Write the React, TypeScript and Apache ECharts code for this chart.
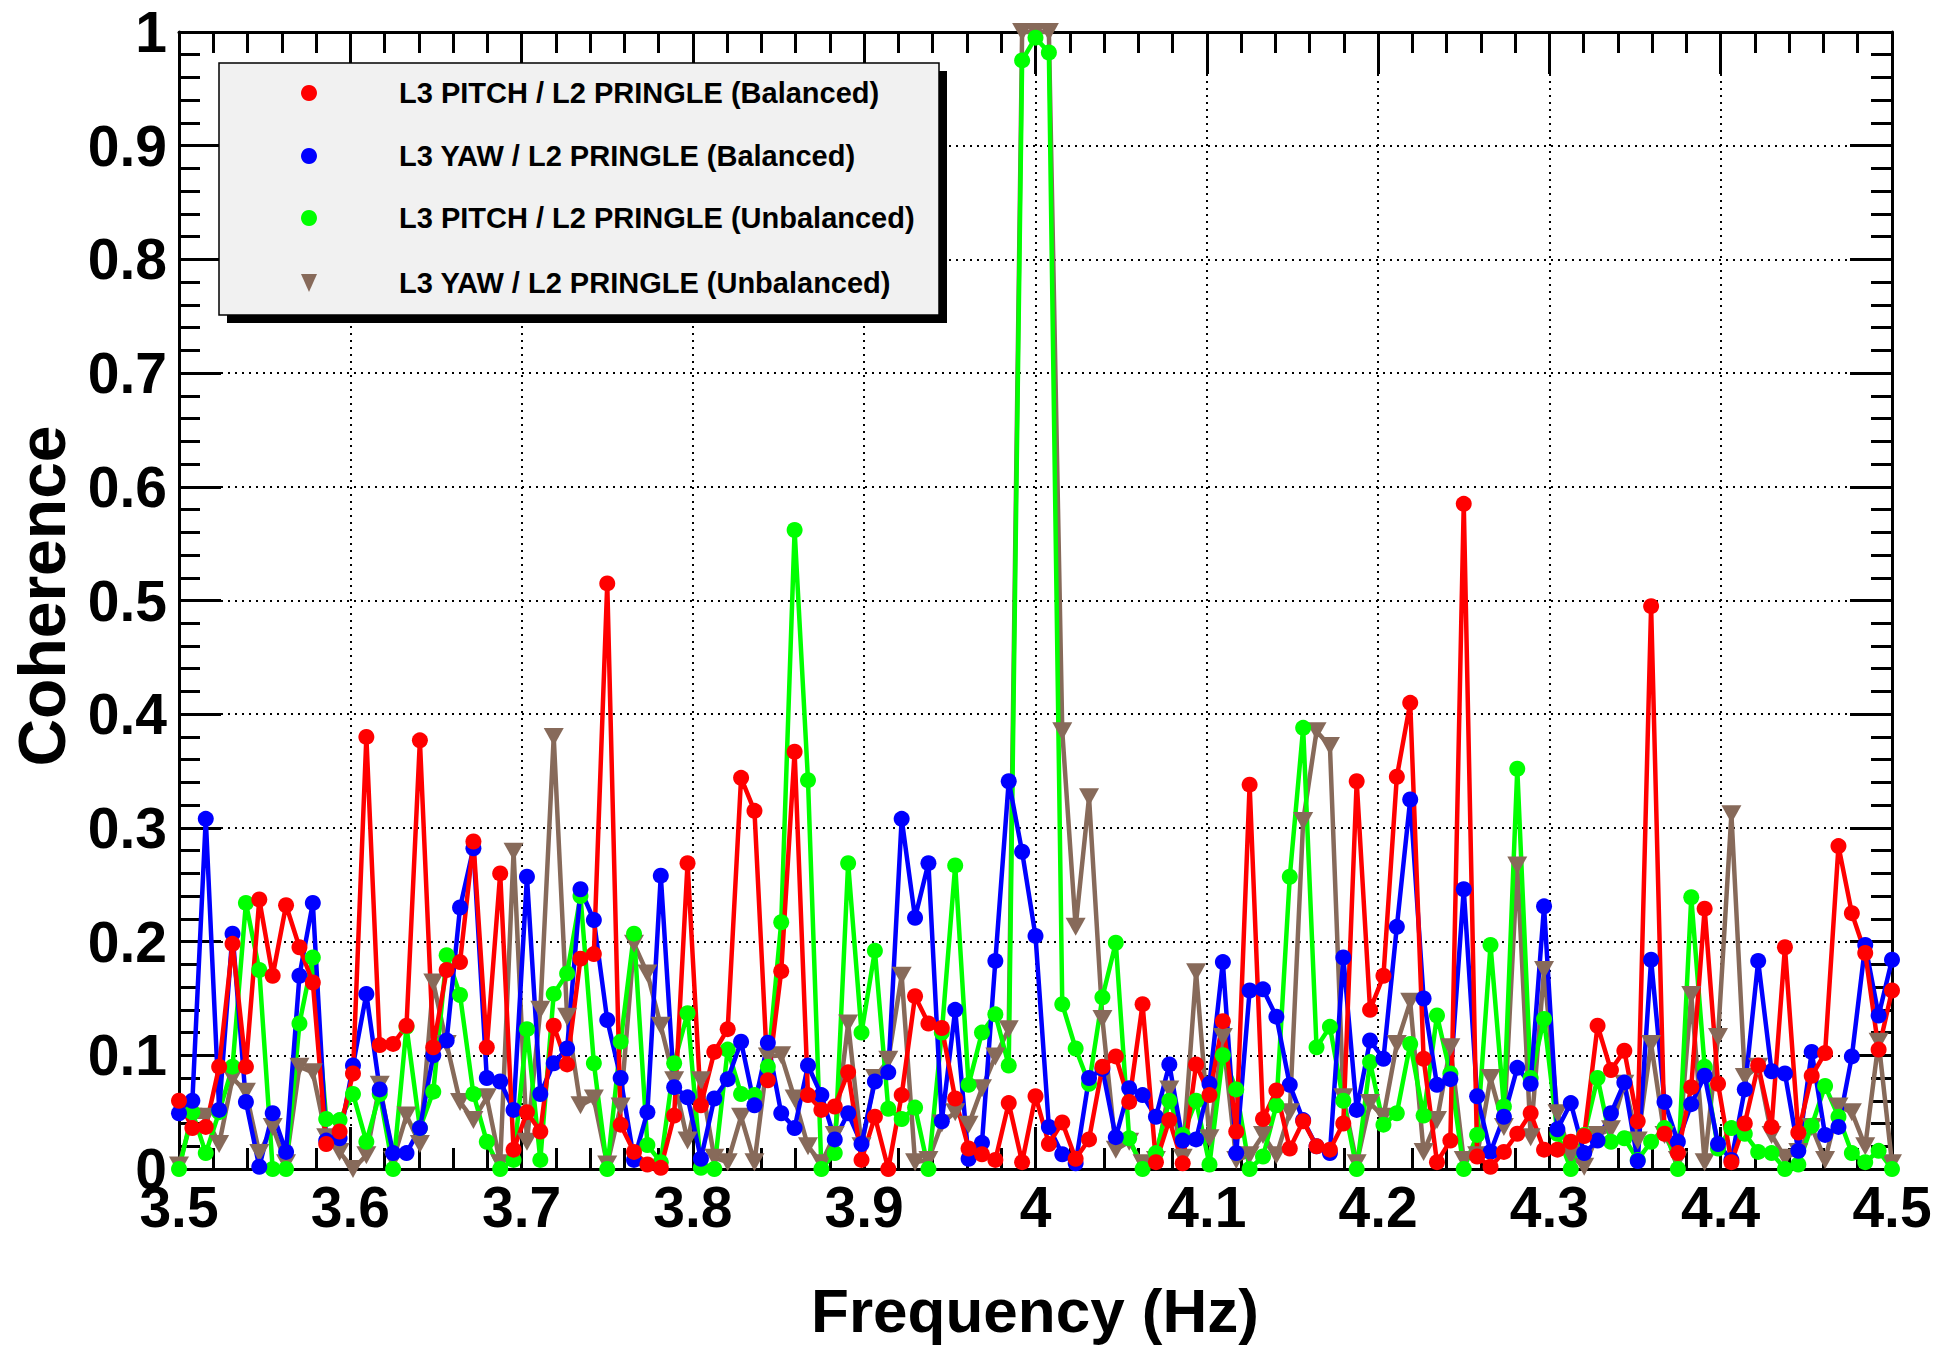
import React, { useEffect, useRef } from "react";
import * as echarts from "echarts";

const FREQ_START = 3.5;
const FREQ_STEP = 1 / 128;

const RED_BAL = [
  0.06, 0.036, 0.037, 0.09, 0.198, 0.09, 0.237, 0.17, 0.232, 0.195, 0.164, 0.022, 0.033, 0.084, 0.38, 0.109,
  0.11, 0.126, 0.377, 0.107, 0.175, 0.182, 0.288, 0.107, 0.26, 0.017, 0.05, 0.033, 0.126, 0.092, 0.185, 0.189,
  0.515, 0.039, 0.015, 0.004, 0.001, 0.047, 0.269, 0.056, 0.103, 0.123, 0.344, 0.315, 0.078, 0.174, 0.367, 0.065,
  0.052, 0.055, 0.085, 0.008, 0.046, 0.0, 0.065, 0.152, 0.128, 0.124, 0.062, 0.018, 0.013, 0.008, 0.058, 0.006,
  0.064, 0.022, 0.041, 0.009, 0.026, 0.09, 0.099, 0.059, 0.145, 0.006, 0.043, 0.005, 0.092, 0.065, 0.13, 0.033,
  0.338, 0.044, 0.069, 0.018, 0.042, 0.02, 0.017, 0.04, 0.341, 0.14, 0.17, 0.345, 0.41, 0.097, 0.006, 0.025,
  0.585, 0.011, 0.002, 0.015, 0.031, 0.049, 0.017, 0.017, 0.024, 0.029, 0.126, 0.087, 0.104, 0.042, 0.495, 0.031,
  0.014, 0.072, 0.229, 0.075, 0.006, 0.04, 0.091, 0.037, 0.195, 0.032, 0.082, 0.102, 0.284, 0.225, 0.19, 0.105,
  0.157,
];

const BLUE_BAL = [
  0.049, 0.06, 0.308, 0.052, 0.207, 0.059, 0.002, 0.049, 0.015, 0.17, 0.234, 0.025, 0.027, 0.091, 0.154, 0.07,
  0.014, 0.014, 0.036, 0.1, 0.113, 0.23, 0.282, 0.08, 0.077, 0.052, 0.257, 0.066, 0.093, 0.106, 0.246, 0.219,
  0.131, 0.08, 0.008, 0.05, 0.258, 0.072, 0.063, 0.009, 0.062, 0.079, 0.112, 0.056, 0.111, 0.049, 0.036, 0.091,
  0.065, 0.026, 0.049, 0.022, 0.077, 0.085, 0.308, 0.221, 0.269, 0.042, 0.14, 0.009, 0.023, 0.183, 0.341, 0.279,
  0.205, 0.037, 0.013, 0.005, 0.08, 0.088, 0.028, 0.071, 0.065, 0.046, 0.092, 0.025, 0.026, 0.075, 0.182, 0.014,
  0.157, 0.158, 0.134, 0.074, 0.043, 0.02, 0.014, 0.186, 0.052, 0.113, 0.097, 0.213, 0.325, 0.15, 0.074, 0.079,
  0.246, 0.064, 0.015, 0.046, 0.089, 0.075, 0.231, 0.035, 0.058, 0.014, 0.025, 0.049, 0.076, 0.007, 0.184, 0.059,
  0.024, 0.057, 0.082, 0.022, 0.008, 0.07, 0.183, 0.086, 0.084, 0.016, 0.103, 0.03, 0.037, 0.099, 0.197, 0.135,
  0.184,
];

const GREEN_UNBAL = [
  0.0, 0.05, 0.014, 0.05, 0.09, 0.234, 0.175, 0.0, 0.0, 0.128, 0.186, 0.044, 0.043, 0.066, 0.024, 0.066,
  0.0, 0.125, 0.036, 0.068, 0.188, 0.153, 0.066, 0.024, 0.0, 0.008, 0.123, 0.008, 0.154, 0.172, 0.24, 0.093,
  0.0, 0.112, 0.207, 0.021, 0.006, 0.093, 0.137, 0.001, 0.0, 0.105, 0.066, 0.065, 0.09, 0.217, 0.562, 0.342,
  0.0, 0.014, 0.269, 0.12, 0.192, 0.053, 0.044, 0.054, 0.0, 0.12, 0.267, 0.074, 0.12, 0.136, 0.091, 0.975,
  0.995, 0.982, 0.145, 0.106, 0.075, 0.151, 0.199, 0.027, 0.0, 0.014, 0.06, 0.03, 0.06, 0.004, 0.1, 0.07,
  0.0, 0.011, 0.056, 0.257, 0.388, 0.107, 0.125, 0.06, 0.0, 0.094, 0.039, 0.049, 0.11, 0.047, 0.135, 0.084,
  0.0, 0.03, 0.197, 0.055, 0.352, 0.08, 0.132, 0.031, 0.0, 0.03, 0.08, 0.024, 0.027, 0.008, 0.024, 0.036,
  0.0, 0.239, 0.09, 0.018, 0.036, 0.031, 0.015, 0.014, 0.0, 0.004, 0.038, 0.073, 0.046, 0.014, 0.006, 0.016,
  0.0,
];

const BROWN_UNBAL = [
  0.003, 0.046, 0.046, 0.022, 0.08, 0.068, 0.014, 0.037, 0.005, 0.09, 0.085, 0.028, 0.015, 0.0, 0.012, 0.074,
  0.008, 0.047, 0.022, 0.164, 0.11, 0.059, 0.043, 0.063, 0.005, 0.279, 0.024, 0.14, 0.38, 0.134, 0.056, 0.062,
  0.004, 0.055, 0.198, 0.172, 0.126, 0.078, 0.025, 0.078, 0.01, 0.006, 0.046, 0.006, 0.099, 0.1, 0.062, 0.02,
  0.005, 0.03, 0.128, 0.02, 0.08, 0.096, 0.17, 0.006, 0.008, 0.04, 0.05, 0.039, 0.071, 0.099, 0.123, 1.0,
  1.0, 1.0, 0.385, 0.213, 0.327, 0.132, 0.017, 0.024, 0.005, 0.008, 0.07, 0.01, 0.173, 0.027, 0.116, 0.008,
  0.012, 0.03, 0.012, 0.05, 0.306, 0.385, 0.372, 0.063, 0.005, 0.058, 0.046, 0.11, 0.147, 0.015, 0.043, 0.107,
  0.008, 0.012, 0.08, 0.037, 0.267, 0.028, 0.175, 0.049, 0.012, 0.002, 0.03, 0.035, 0.075, 0.025, 0.11, 0.03,
  0.008, 0.153, 0.006, 0.116, 0.312, 0.081, 0.09, 0.03, 0.01, 0.015, 0.037, 0.008, 0.055, 0.05, 0.02, 0.112,
  0.005,
];

const SERIES_NAMES = [
  "L3 PITCH / L2 PRINGLE (Balanced)",
  "L3 YAW / L2 PRINGLE (Balanced)",
  "L3 PITCH / L2 PRINGLE (Unbalanced)",
  "L3 YAW / L2 PRINGLE (Unbalanced)",
];

const X_TITLE = "Frequency (Hz)";
const Y_TITLE = "Coherence";

const COLORS = ["#ff0000", "#0000ff", "#00ff00", "#876a5a"];
const FONT = "'Liberation Sans', Arial, Helvetica, sans-serif";
const TRI_DOWN = "path://M0,0 L20,0 L10,18 Z";

function toPairs(values: number[]) {
  return values.map((v, i) => [FREQ_START + i * FREQ_STEP, v]);
}

export default function App() {
  const ref = useRef<HTMLDivElement>(null);

  useEffect(() => {
    if (!ref.current) return;
    const chart = echarts.init(ref.current, undefined, { renderer: "svg" });

    const gridLeft = 179;
    const gridTop = 32;
    const gridRight = 44;
    const gridBottom = 177;

    const tickCommon = {
      axisTick: { show: true, inside: true, length: 42, lineStyle: { color: "#000", width: 3 } },
      minorTick: { show: true, splitNumber: 5, length: 21, lineStyle: { color: "#000", width: 3 } },
      axisLine: { show: true, onZero: false, lineStyle: { color: "#000", width: 3 } },
    };

    const labelStyle = {
      fontSize: 57,
      fontWeight: "bold" as const,
      color: "#000",
      fontFamily: FONT,
      lineHeight: 38,
    };

    const splitLine = {
      show: true,
      lineStyle: { color: "#000", width: 2, type: [2, 5] as number[] },
    };

    const lineSeries = (idx: number, values: number[], symbol: string, size: any) => ({
      name: SERIES_NAMES[idx],
      type: "line",
      xAxisIndex: 0,
      yAxisIndex: 0,
      data: toPairs(values),
      symbol,
      symbolSize: size,
      showSymbol: true,
      clip: false,
      lineStyle: { color: COLORS[idx], width: 4.5 },
      itemStyle: { color: COLORS[idx] },
      emphasis: { disabled: true },
    });

    const legendLeft = 219;
    const legendTop = 63;
    const legendW = 720;
    const legendH = 252;
    const rowYs = [93, 156, 218, 283];
    const markerX = 309;
    const textX = 399;

    const legendGraphics: any[] = [
      {
        type: "rect",
        z: 100,
        shape: { x: legendLeft + 8, y: legendTop + 8, width: legendW, height: legendH },
        style: { fill: "#000" },
      },
      {
        type: "rect",
        z: 101,
        shape: { x: legendLeft, y: legendTop, width: legendW, height: legendH },
        style: { fill: "#f1f1f1", stroke: "#000", lineWidth: 1.5 },
      },
    ];
    [0, 1, 2].forEach((k) => {
      legendGraphics.push({
        type: "circle",
        z: 102,
        shape: { cx: markerX, cy: rowYs[k], r: 8 },
        style: { fill: COLORS[k] },
      });
    });
    legendGraphics.push({
      type: "polygon",
      z: 102,
      shape: {
        points: [
          [markerX - 8, rowYs[3] - 9],
          [markerX + 8, rowYs[3] - 9],
          [markerX, rowYs[3] + 9],
        ],
      },
      style: { fill: COLORS[3] },
    });
    SERIES_NAMES.forEach((name, k) => {
      legendGraphics.push({
        type: "text",
        z: 102,
        x: textX,
        y: rowYs[k],
        style: {
          text: name,
          fontSize: 29,
          fontWeight: "bold",
          fontFamily: FONT,
          fill: "#000",
          textAlign: "left",
          textVerticalAlign: "middle",
        },
      });
    });

    const option: any = {
      animation: false,
      backgroundColor: "#ffffff",
      grid: { left: gridLeft, top: gridTop, right: gridRight, bottom: gridBottom, containLabel: false },
      xAxis: [
        {
          type: "value",
          position: "bottom",
          min: 3.5,
          max: 4.5,
          interval: 0.1,
          ...tickCommon,
          axisLabel: { ...labelStyle, margin: 19 },
          splitLine,
        },
        {
          type: "value",
          position: "top",
          min: 3.5,
          max: 4.5,
          interval: 0.1,
          ...tickCommon,
          axisLabel: { show: false },
          splitLine: { show: false },
        },
      ],
      yAxis: [
        {
          type: "value",
          position: "left",
          min: 0,
          max: 1,
          interval: 0.1,
          ...tickCommon,
          axisLabel: { ...labelStyle, margin: 12 },
          splitLine,
        },
        {
          type: "value",
          position: "right",
          min: 0,
          max: 1,
          interval: 0.1,
          ...tickCommon,
          axisLabel: { show: false },
          splitLine: { show: false },
        },
      ],
      series: [
        lineSeries(3, BROWN_UNBAL, TRI_DOWN, [20, 18]),
        lineSeries(2, GREEN_UNBAL, "circle", 16),
        lineSeries(1, BLUE_BAL, "circle", 16),
        lineSeries(0, RED_BAL, "circle", 16),
      ],
      graphic: [
        ...legendGraphics,
        {
          type: "text",
          x: 1035,
          y: 1310,
          style: {
            text: X_TITLE,
            fontSize: 62,
            fontWeight: "bold",
            fontFamily: FONT,
            fill: "#000",
            textAlign: "center",
            textVerticalAlign: "middle",
          },
        },
        {
          type: "text",
          x: 42,
          y: 596,
          rotation: Math.PI / 2,
          style: {
            text: Y_TITLE,
            fontSize: 66,
            fontWeight: "bold",
            fontFamily: FONT,
            fill: "#000",
            textAlign: "center",
            textVerticalAlign: "middle",
          },
        },
      ],
    };

    chart.setOption(option);
    return () => {
      chart.dispose();
    };
  }, []);

  return (
    <div
      ref={ref}
      style={{ position: "absolute", left: 0, top: 0, width: 1936, height: 1346, background: "#fff" }}
    />
  );
}
